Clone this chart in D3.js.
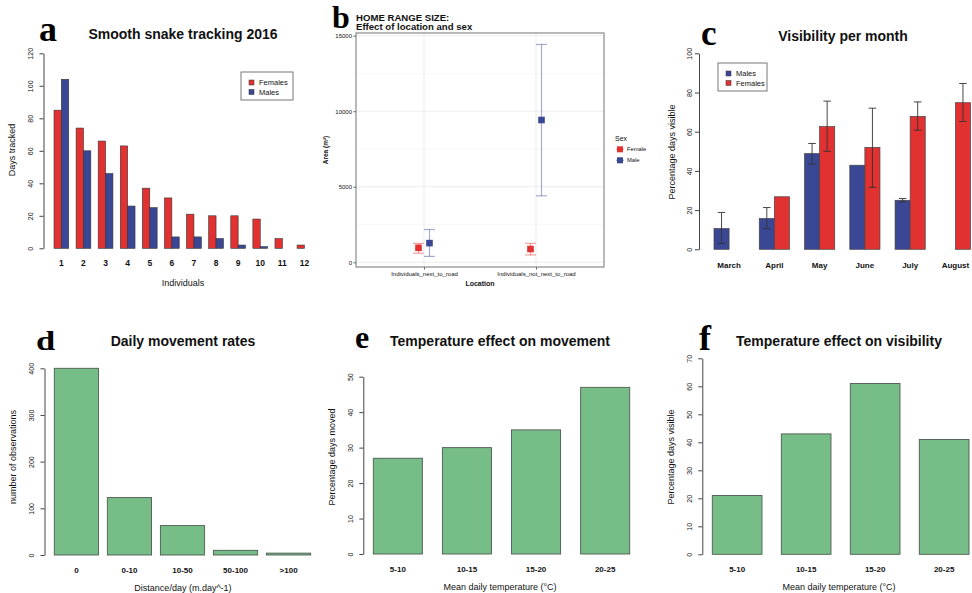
<!DOCTYPE html>
<html>
<head>
<meta charset="utf-8">
<script src="https://cdn.jsdelivr.net/npm/d3@7"></script>
<style>
    body { margin: 0; background: #fff; }
    svg text { font-family: "Liberation Sans", Arial, sans-serif; fill: #111; }
    svg text.tag { font-family: "Liberation Serif", "DejaVu Serif", serif; font-weight: bold; fill: #000; }
</style>
</head>
<body>
<svg id="chart" width="972" height="593"></svg>
<script>
// a - days tracked per individual
const individuals = ['1', '2', '3', '4', '5', '6', '7', '8', '9', '10', '11', '12']
const femaleDays = [85, 74, 66, 63, 37, 31, 21, 20, 20, 18, 6, 2]
const maleDays = [104, 60, 46, 26, 25, 7, 7, 6, 2, 1, 0, 0]

// b - home range size
const locations = ['Individuals_next_to_road', 'Individuals_not_next_to_road']
const femaleArea = [960, 880]
const femaleAreaLow = [600, 490]
const femaleAreaHigh = [1250, 1250]
const maleArea = [1270, 9420]
const maleAreaLow = [390, 4400]
const maleAreaHigh = [2170, 14420]

// c - visibility per month
const months = ['March', 'April', 'May', 'June', 'July', 'August']
const maleVisible = [10.6, 15.7, 48.8, 42.9, 25, 0]
const maleVisibleLow = [3, 10.6, 43.5, null, 24.2, null]
const maleVisibleHigh = [18.8, 21.3, 54, null, 25.9, null]
const femaleVisible = [0, 26.8, 62.6, 52, 67.8, 74.8]
const femaleVisibleLow = [null, null, 50, 31.6, 60.8, 65.2]
const femaleVisibleHigh = [null, null, 75.6, 72, 75.2, 84.6]

// d - daily movement
const distanceClasses = ['0', '0-10', '10-50', '50-100', '>100']
const observations = [400, 123, 63, 10, 4]

// e, f - temperature effects
const tempClasses = ['5-10', '10-15', '15-20', '20-25']
const daysMoved = [27, 30, 35, 47]
const daysVisible = [21, 43, 61, 41]

const red = '#e23131'
const blue = '#3a4795'
const green = '#77bd87'

let svg = d3.select('#chart')

// R base graphics style y axis: line only between first and last tick, rotated labels
function rAxisLeft(g, y, ticks, x, labelOffset) {
    let ax = g.append('g')
        .attr('transform', `translate(${x},0)`)
        .call(d3.axisLeft(y).tickValues(ticks).tickSize(4).tickSizeOuter(0))
    ax.select('.domain').attr('stroke', '#444')
    ax.selectAll('.tick line').attr('stroke', '#444')
    ax.selectAll('.tick text')
        .attr('x', null)
        .attr('dy', null)
        .attr('text-anchor', 'middle')
        .attr('font-size', 7)
        .attr('font-family', '"Liberation Sans", Arial, sans-serif')
        .attr('fill', '#222')
        .attr('transform', `translate(${-labelOffset},0) rotate(-90)`)
        .attr('dy', '0.35em')
}

function xLabels(g, x, cats, yPos, size) {
    g.selectAll(null)
        .data(cats)
        .join('text')
        .attr('x', d => x(d) + x.bandwidth() / 2)
        .attr('y', yPos)
        .attr('text-anchor', 'middle')
        .attr('font-size', size || 8)
        .attr('font-weight', 'bold')
        .text(d => d)
}

function title(text, x, y) {
    svg.append('text')
        .attr('x', x).attr('y', y)
        .attr('text-anchor', 'middle')
        .attr('font-size', 14)
        .attr('font-weight', 'bold')
        .text(text)
}

function yTitle(text, x, y, size) {
    svg.append('text')
        .attr('transform', `translate(${x},${y}) rotate(-90)`)
        .attr('text-anchor', 'middle')
        .attr('dy', '0.35em')
        .attr('font-size', size || 9)
        .text(text)
}

function tag(letter, x, y, size, sx) {
    svg.append('text')
        .attr('class', 'tag')
        .attr('transform', `translate(${x},${y}) scale(${sx || 1},1)`)
        .attr('font-size', size)
        .text(letter)
}

function legendBox(g, x, y, w, h, items) {
    g.append('rect')
        .attr('x', x).attr('y', y).attr('width', w).attr('height', h)
        .attr('fill', 'white').attr('stroke', '#777').attr('stroke-width', 1)
    items.forEach((it, i) => {
        g.append('rect')
            .attr('x', x + 8).attr('y', y + 8 + i * 9.5)
            .attr('width', 5).attr('height', 5)
            .attr('fill', it.color).attr('stroke', '#333').attr('stroke-width', 0.5)
        g.append('text')
            .attr('x', x + 18).attr('y', y + 10.5 + i * 9.5)
            .attr('dy', '0.35em')
            .attr('font-size', 7.5)
            .attr('fill', '#333')
            .text(it.label)
    })
}

// ---------- a ----------
function panelA() {
    let g = svg.append('g')
    let x0 = d3.scaleBand().domain(individuals).range([54, 311.8]).paddingInner(1 / 3).paddingOuter(0)
    let x1 = d3.scaleBand().domain(['Females', 'Males']).range([0, x0.bandwidth()])
    let y = d3.scaleLinear().domain([0, 120]).range([248.3, 53.3])

    let rows = individuals.map((d, i) => ({ id: d, vals: [
        { sex: 'Females', v: femaleDays[i], c: red },
        { sex: 'Males', v: maleDays[i], c: blue }] }))

    g.selectAll('g.grp')
        .data(rows)
        .join('g')
        .attr('transform', d => `translate(${x0(d.id)},0)`)
        .selectAll('rect')
        .data(d => d.vals)
        .join('rect')
        .attr('x', d => x1(d.sex))
        .attr('y', d => y(d.v))
        .attr('width', x1.bandwidth())
        .attr('height', d => y(0) - y(d.v))
        .attr('fill', d => d.c)
        .attr('stroke', '#333')
        .attr('stroke-width', 0.6)

    rAxisLeft(g, y, d3.range(0, 121, 20), 43.5, 12.5)
    xLabels(g, x0, individuals, 266, 8.5)

    legendBox(g, 241, 72, 52, 28, [{ label: 'Females', color: red }, { label: 'Males', color: blue }])

    title('Smooth snake tracking 2016', 183, 39)
    yTitle('Days tracked', 12, 150)
    g.append('text').attr('x', 183).attr('y', 286).attr('text-anchor', 'middle')
        .attr('font-size', 9).text('Individuals')
    tag('a', 39, 41, 36)
}

// ---------- b ----------
function panelB() {
    let g = svg.append('g')
    let left = 356, right = 604, top = 33, bottom = 267
    let x = d3.scalePoint().domain(locations).range([424, 536])
    let y = d3.scaleLinear().domain([0, 15000]).range([262.3, 35.7])
    let dodge = { Female: -5.5, Male: 5.5 }

    // grid
    g.selectAll('line.minor')
        .data([2500, 7500, 12500])
        .join('line')
        .attr('x1', left).attr('x2', right)
        .attr('y1', d => y(d)).attr('y2', d => y(d))
        .attr('stroke', '#f3f3f3').attr('stroke-width', 0.6)
    g.selectAll('line.major')
        .data([0, 5000, 10000, 15000])
        .join('line')
        .attr('x1', left).attr('x2', right)
        .attr('y1', d => y(d)).attr('y2', d => y(d))
        .attr('stroke', '#ebebeb').attr('stroke-width', 0.9)
    g.selectAll('line.vmajor')
        .data(locations)
        .join('line')
        .attr('x1', d => x(d)).attr('x2', d => x(d))
        .attr('y1', top).attr('y2', bottom)
        .attr('stroke', '#ebebeb').attr('stroke-width', 0.9)

    let pts = []
    locations.forEach((loc, i) => {
        pts.push({ loc, sex: 'Female', v: femaleArea[i], lo: femaleAreaLow[i], hi: femaleAreaHigh[i], c: red })
        pts.push({ loc, sex: 'Male', v: maleArea[i], lo: maleAreaLow[i], hi: maleAreaHigh[i], c: blue })
    })

    let eb = g.selectAll('g.eb')
        .data(pts)
        .join('g')
        .attr('transform', d => `translate(${x(d.loc) + dodge[d.sex]},0)`)
        .attr('stroke', d => d.c)
        .attr('stroke-opacity', 0.45)
        .attr('stroke-width', 1.2)
    eb.append('line').attr('y1', d => y(d.lo)).attr('y2', d => y(d.hi))
    eb.append('line').attr('x1', -5.5).attr('x2', 5.5).attr('y1', d => y(d.lo)).attr('y2', d => y(d.lo))
    eb.append('line').attr('x1', -5.5).attr('x2', 5.5).attr('y1', d => y(d.hi)).attr('y2', d => y(d.hi))

    g.selectAll('rect.pt')
        .data(pts)
        .join('rect')
        .attr('x', d => x(d.loc) + dodge[d.sex] - 3.3)
        .attr('y', d => y(d.v) - 3.3)
        .attr('width', 6.6).attr('height', 6.6)
        .attr('fill', d => d.c)

    g.append('rect')
        .attr('x', left).attr('y', top).attr('width', right - left).attr('height', bottom - top)
        .attr('fill', 'none').attr('stroke', '#8a8a8a').attr('stroke-width', 1.2)

    // axes
    let ya = g.append('g').attr('transform', `translate(${left},0)`)
        .call(d3.axisLeft(y).tickValues([0, 5000, 10000, 15000]).tickSize(2.5).tickPadding(1.5).tickFormat(d3.format('d')))
    ya.select('.domain').remove()
    ya.selectAll('.tick line').attr('stroke', '#666')
    ya.selectAll('.tick text').attr('font-size', 6).attr('fill', '#555')
        .attr('font-family', '"Liberation Sans", Arial, sans-serif')

    let xa = g.append('g').attr('transform', `translate(0,${bottom})`)
        .call(d3.axisBottom(x).tickSize(2.5).tickPadding(2))
    xa.select('.domain').remove()
    xa.selectAll('.tick line').attr('stroke', '#666')
    xa.selectAll('.tick text').attr('font-size', 6).attr('fill', '#555')
        .attr('font-family', '"Liberation Sans", Arial, sans-serif')

    g.append('text').attr('x', 480).attr('y', 285.5).attr('text-anchor', 'middle')
        .attr('font-size', 7).attr('font-weight', 'bold').text('Location')
    g.append('text')
        .attr('transform', 'translate(326,150) rotate(-90)')
        .attr('text-anchor', 'middle').attr('dy', '0.35em')
        .attr('font-size', 6.5).attr('font-weight', 'bold')
        .text('Area (m²)')

    // legend
    g.append('text').attr('x', 615).attr('y', 141).attr('font-size', 7).attr('fill', '#333').text('Sex')
    let lg = g.selectAll('g.key')
        .data([{ s: 'Female', c: red }, { s: 'Male', c: blue }])
        .join('g')
        .attr('transform', (d, i) => `translate(620,${149.3 + i * 11})`)
    lg.append('line').attr('x1', -4).attr('x2', 4).attr('stroke', d => d.c).attr('stroke-opacity', 0.45).attr('stroke-width', 1.2)
    lg.append('rect').attr('x', -3).attr('y', -3).attr('width', 6).attr('height', 6).attr('fill', d => d.c)
    lg.append('text').attr('x', 7).attr('dy', '0.35em').attr('font-size', 5.8).attr('fill', '#444').text(d => d.s)

    // title
    g.append('text').attr('x', 356).attr('y', 20.5).attr('font-size', 9.6).attr('font-weight', 'bold').text('HOME RANGE SIZE:')
    g.append('text').attr('x', 356).attr('y', 30).attr('font-size', 9.6).attr('font-weight', 'bold').text('Effect of location and sex')
    tag('b', 332, 28, 32)
}

// ---------- c ----------
function panelC() {
    let g = svg.append('g')
    let x0 = d3.scaleBand().domain(months).range([714, 970.5]).paddingInner(1 / 3).paddingOuter(0)
    let x1 = d3.scaleBand().domain(['Males', 'Females']).range([0, x0.bandwidth()])
    let y = d3.scaleLinear().domain([0, 100]).range([249.3, 53.3])

    let rows = months.map((m, i) => ({ id: m, vals: [
        { sex: 'Males', v: maleVisible[i], lo: maleVisibleLow[i], hi: maleVisibleHigh[i], c: blue },
        { sex: 'Females', v: femaleVisible[i], lo: femaleVisibleLow[i], hi: femaleVisibleHigh[i], c: red }] }))

    let grp = g.selectAll('g.grp')
        .data(rows)
        .join('g')
        .attr('transform', d => `translate(${x0(d.id)},0)`)

    grp.selectAll('rect')
        .data(d => d.vals)
        .join('rect')
        .attr('x', d => x1(d.sex))
        .attr('y', d => y(d.v))
        .attr('width', x1.bandwidth())
        .attr('height', d => y(0) - y(d.v))
        .attr('fill', d => d.c)
        .attr('stroke', '#444')
        .attr('stroke-width', 0.7)

    let eb = grp.selectAll('g.eb')
        .data(d => d.vals.filter(v => v.lo !== null))
        .join('g')
        .attr('transform', d => `translate(${x1(d.sex) + x1.bandwidth() / 2},0)`)
        .attr('stroke', '#333').attr('stroke-width', 0.9)
    eb.append('line').attr('y1', d => y(d.lo)).attr('y2', d => y(d.hi))
    eb.append('line').attr('x1', -3.8).attr('x2', 3.8).attr('y1', d => y(d.lo)).attr('y2', d => y(d.lo))
    eb.append('line').attr('x1', -3.8).attr('x2', 3.8).attr('y1', d => y(d.hi)).attr('y2', d => y(d.hi))

    rAxisLeft(g, y, d3.range(0, 101, 20), 699, 9.5)
    xLabels(g, x0, months, 268)

    legendBox(g, 718, 63, 49, 28, [{ label: 'Males', color: blue }, { label: 'Females', color: red }])

    title('Visibility per month', 843, 40.5)
    yTitle('Percentage days visible', 672, 152)
    tag('c', 701, 44.5, 35)
}

// ---------- d, e, f ----------
function simpleBars(opts) {
    let g = svg.append('g')
    let x = d3.scaleBand().domain(opts.cats).range(opts.xRange).paddingInner(opts.pad).paddingOuter(0)
    let y = d3.scaleLinear().domain([0, opts.yMax]).range(opts.yRange)

    g.selectAll('rect')
        .data(opts.values)
        .join('rect')
        .attr('x', (d, i) => x(opts.cats[i]))
        .attr('y', d => y(d))
        .attr('width', x.bandwidth())
        .attr('height', d => y(0) - y(d))
        .attr('fill', green)
        .attr('stroke', '#4f5a52')
        .attr('stroke-width', 0.9)

    rAxisLeft(g, y, d3.range(0, opts.yMax + 1, opts.step), opts.axisX, 13)
    xLabels(g, x, opts.cats, opts.labelY)

    title(opts.title, opts.titleX, 346)
    yTitle(opts.yTitle, opts.yTitleX, 457)
    g.append('text').attr('x', opts.titleX).attr('y', opts.xTitleY).attr('text-anchor', 'middle')
        .attr('font-size', 9).text(opts.xTitle)
}

function panelD() {
    simpleBars({
        cats: distanceClasses, values: observations, xRange: [54.3, 310.7], pad: 1 / 6,
        yMax: 400, step: 100, yRange: [555, 368.3], axisX: 44.5, labelY: 573,
        title: 'Daily movement rates', titleX: 183,
        yTitle: 'number of observations', yTitleX: 13,
        xTitle: 'Distance/day (m.day^-1)', xTitleY: 591
    })
    tag('d', 36, 350, 27, 1.28)
}

function panelE() {
    simpleBars({
        cats: tempClasses, values: daysMoved, xRange: [373.3, 629.7], pad: 0.29,
        yMax: 50, step: 10, yRange: [554, 376.7], axisX: 363.3, labelY: 572,
        title: 'Temperature effect on movement', titleX: 500,
        yTitle: 'Percentage days moved', yTitleX: 332,
        xTitle: 'Mean daily temperature (°C)', xTitleY: 590
    })
    tag('e', 355, 348.3, 32)
}

function panelF() {
    simpleBars({
        cats: tempClasses, values: daysVisible, xRange: [712.3, 969], pad: 0.28,
        yMax: 70, step: 10, yRange: [554.3, 358.3], axisX: 702.3, labelY: 572,
        title: 'Temperature effect on visibility', titleX: 839,
        yTitle: 'Percentage days visible', yTitleX: 671,
        xTitle: 'Mean daily temperature (°C)', xTitleY: 590
    })
    tag('f', 699, 350, 36)
}

panelA()
panelB()
panelC()
panelD()
panelE()
panelF()
</script>
</body>
</html>
